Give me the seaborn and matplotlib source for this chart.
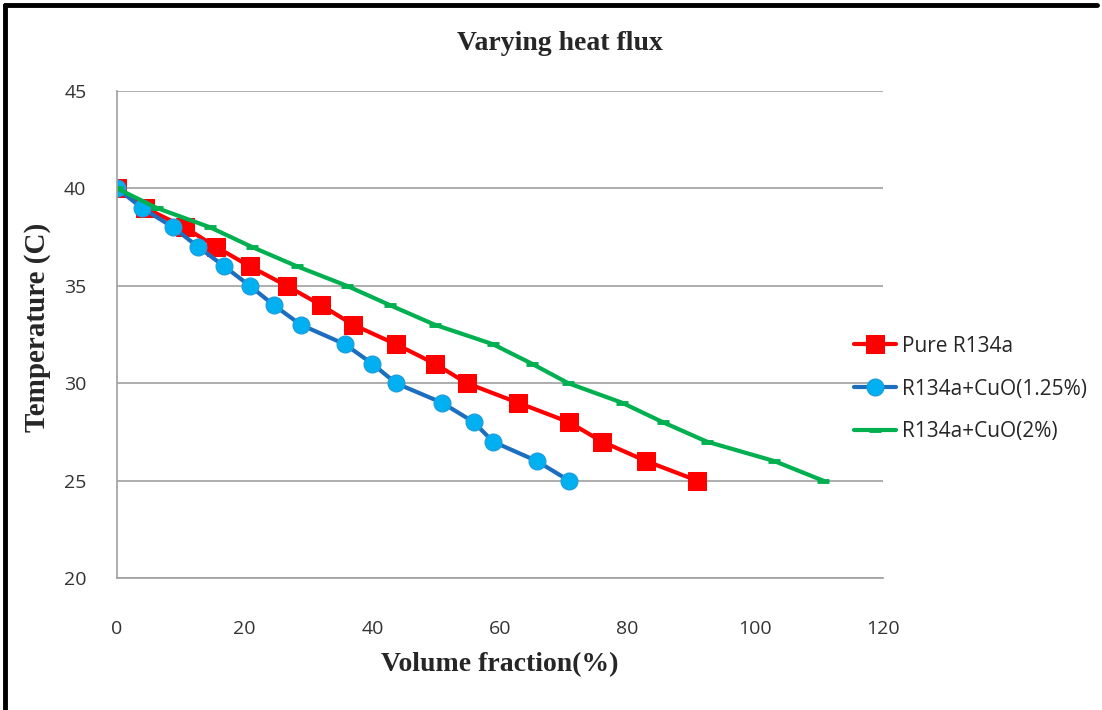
import numpy as np
import pandas as pd
import matplotlib
matplotlib.use("Agg")
import matplotlib.pyplot as plt
from matplotlib.lines import Line2D
import seaborn as sns

# Temperature readings (C) shared by all three series
temperature = [40, 39, 38, 37, 36, 35, 34, 33, 32, 31, 30, 29, 28, 27, 26, 25]

# Volume fraction (%) for each refrigerant
pure_r134a = [0, 4.4, 10.6, 15.5, 20.8, 26.6, 32.0, 37.0, 43.7, 49.8, 54.8, 62.8, 70.8, 76.0, 82.9, 90.9]
cuo_125 = [0, 3.9, 8.8, 12.7, 16.8, 20.8, 24.6, 28.8, 35.7, 40.0, 43.7, 50.9, 55.9, 58.9, 65.8, 70.8]
cuo_2 = [0, 6.2, 14.6, 21.1, 28.2, 36.0, 42.8, 49.8, 58.9, 65.0, 70.7, 79.1, 85.5, 92.4, 103.0, 110.6]

series_names = ["Pure R134a", "R134a+CuO(1.25%)", "R134a+CuO(2%)"]
x_ticks = [0, 20, 40, 60, 80, 100, 120]
y_ticks = [20, 25, 30, 35, 40, 45]

sns.set_style("white")
plt.rcParams["font.family"] = ["Open Sans", "DejaVu Sans"]

W, H = 1102, 710
fig = plt.figure(figsize=(W / 100, H / 100), dpi=100)
ax = fig.add_axes([117 / W, 1 - 578 / H, (883 - 117) / W, (578 - 91) / H])

styles = {
    "Pure R134a": dict(color="#FF0000", marker="s", markersize=13, markerfacecolor="#FF0000",
                       markeredgecolor="#FF0000", linewidth=3.0),
    "R134a+CuO(1.25%)": dict(color="#1C6FBF", marker="o", markersize=12, markerfacecolor="#00B0F0",
                             markeredgecolor="#1C9FDF", markeredgewidth=1.0, linewidth=3.0),
    "R134a+CuO(2%)": dict(color="#00B050", marker="_", markersize=9, markeredgewidth=3.5,
                          markeredgecolor="#00B050", linewidth=3.0),
}

for name, xs in zip(series_names, [pure_r134a, cuo_125, cuo_2]):
    df = pd.DataFrame({"fraction": xs, "temp": temperature})
    sns.lineplot(data=df, x="fraction", y="temp", ax=ax, sort=False, estimator=None,
                 label=name, **styles[name])

ax.set_xlim(0, 120)
ax.set_ylim(20, 45)
ax.set_xticks(x_ticks)
ax.set_yticks(y_ticks)
ax.tick_params(axis="both", length=0, labelsize=14, colors="#333333")
ax.tick_params(axis="x", pad=30)
ax.tick_params(axis="y", pad=22)
ax.yaxis.grid(True, color="#A0A0A0", linewidth=1.2)
ax.xaxis.grid(False)
for side in ["top", "right"]:
    ax.spines[side].set_visible(False)
for side in ["left", "bottom"]:
    ax.spines[side].set_color("#A0A0A0")
    ax.spines[side].set_linewidth(1.2)

ax.set_xlabel("")
ax.set_ylabel("")

serif = ["Liberation Serif", "DejaVu Serif"]
fig.text(560 / W, 1 - 43 / H, "Varying heat flux", ha="center", va="center",
         fontsize=20, fontweight="bold", family=serif)
fig.text(500 / W, 1 - 665 / H, "Volume fraction(%)", ha="center", va="center",
         fontsize=20, fontweight="bold", family=serif)
fig.text(38 / W, 1 - 327 / H, "Temperature (C)", ha="center", va="center", rotation=90,
         fontsize=21, fontweight="bold", family=serif)

handles, labels = ax.get_legend_handles_labels()
ax.legend(handles, labels, loc="center left", bbox_to_anchor=(846 / W, 1 - 389 / H),
          bbox_transform=fig.transFigure, frameon=False, fontsize=15, handlelength=2.0,
          handletextpad=0.3, labelspacing=1.05, borderaxespad=0)

# Outer frame
fig.add_artist(Line2D([5 / W, 5 / W], [0, 1 - 5 / H], transform=fig.transFigure,
                      color="black", linewidth=3.5))
fig.add_artist(Line2D([5 / W, 1097 / W], [1 - 5 / H, 1 - 5 / H], transform=fig.transFigure,
                      color="black", linewidth=3.5))

fig.savefig("out.png", dpi=100, facecolor="white")
